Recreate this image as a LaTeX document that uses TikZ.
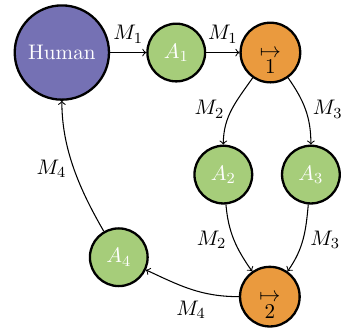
\documentclass[tikz,border=0pt,11pt]{standalone}
\usetikzlibrary{arrows}
\definecolor{humanpurple}{RGB}{117,113,180}
\definecolor{agentgreen}{RGB}{166,205,122}
\definecolor{maporange}{RGB}{234,154,62}
\newcommand{\mapstack}[1]{\begin{tabular}[t]{@{}c@{}}$\mapsto$\\[-5.2pt]$#1$\end{tabular}}

\begin{document}
\begin{tikzpicture}[
  humannode/.style={circle, draw, line width=1.2pt, fill=humanpurple, text=white, minimum size=49pt, inner sep=0pt},
  agentnode/.style={circle, draw, line width=1.2pt, fill=agentgreen, text=white, minimum size=30pt, inner sep=0pt},
  mapnode/.style={circle, draw, line width=1.2pt, fill=maporange, minimum size=31pt, inner sep=0pt,
    text height=5.5pt, text depth=0pt},
  msg/.style={->, line width=0.55pt}
]
\useasboundingbox (0,0) rectangle (6.23,6.01);
% nodes
\node[humannode] (human) at (1.13,5.05) {Human};
\node[agentnode] (a1) at (3.22,5.05) {$A_1$};
\node[mapnode]   (m1) at (4.94,5.05) {\mapstack{1}};
\node[agentnode] (a2) at (4.08,2.82) {$A_2$};
\node[agentnode] (a3) at (5.68,2.82) {$A_3$};
\node[mapnode]   (m2) at (4.93,0.59) {\mapstack{2}};
\node[agentnode] (a4) at (2.17,1.31) {$A_4$};
% messages
\draw[msg] (human) -- node[above=1pt] {$M_1$} (a1);
\draw[msg] (a1) -- node[above=1pt] {$M_1$} (m1);
\draw[msg] (m1) to[out=-125,in=90] node[left] {$M_2$} (a2);
\draw[msg] (m1) to[out=-55,in=90] node[right] {$M_3$} (a3);
\draw[msg] (a2) to[out=-85,in=125] node[left] {$M_2$} (m2);
\draw[msg] (a3) to[out=-95,in=55] node[right] {$M_3$} (m2);
\draw[msg] (m2) to[out=180,in=-25] node[below=2pt] {$M_4$} (a4);
\draw[msg] (a4) to[out=120,in=-90,looseness=0.9] node[left] {$M_4$} (human);
\end{tikzpicture}
\end{document}
